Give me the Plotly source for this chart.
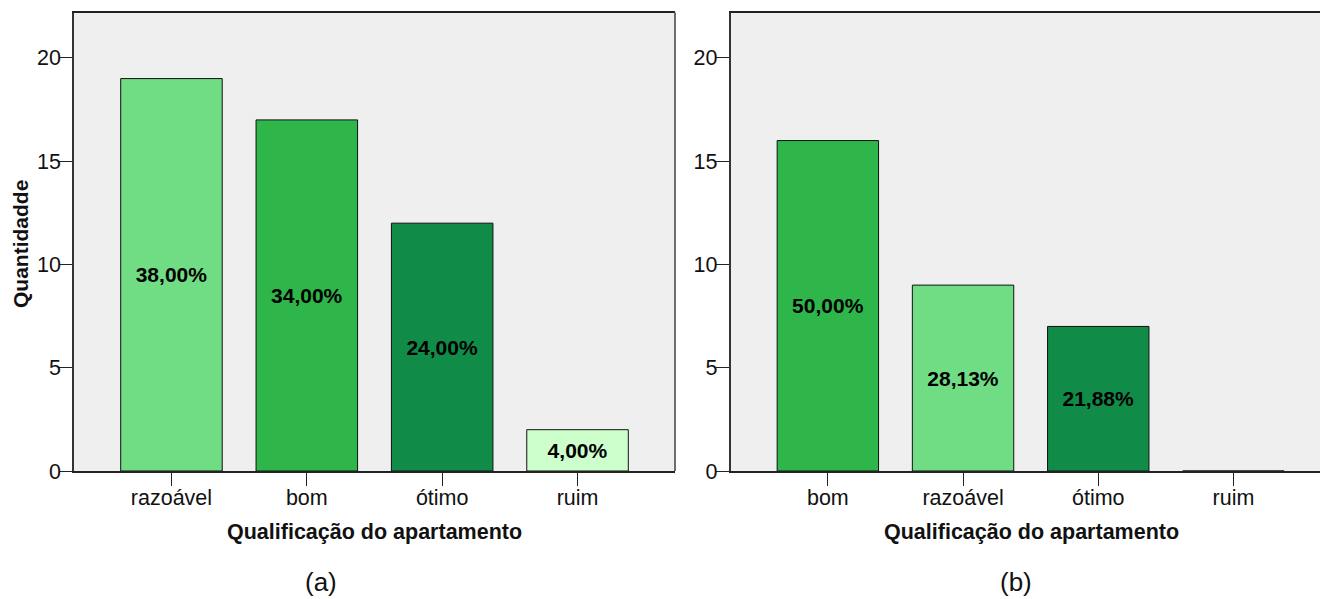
from decimal import Decimal, ROUND_HALF_UP
import plotly.graph_objects as go
from plotly.subplots import make_subplots

# Panel (a)
cats_a = ["razoável", "bom", "ótimo", "ruim"]
counts_a = [19, 17, 12, 2]

# Panel (b)
cats_b = ["bom", "razoável", "ótimo", "ruim"]
counts_b = [16, 9, 7, 0]

y_ticks = [0, 5, 10, 15, 20]
panel_labels = ["(a)", "(b)"]
x_title = "Qualificação do apartamento"
y_title = "Quantidadde"

colors = {
    "razoável": "#70DC84",
    "bom": "#2EB64A",
    "ótimo": "#108B48",
    "ruim": "#CCFFCC",
}

FONT = "Liberation Sans, Arial, sans-serif"
W, H = 1320, 599


def pct_labels(counts):
    total = sum(counts)
    out = []
    for c in counts:
        if c == 0:
            out.append("")
            continue
        p = (Decimal(c) * 100 / Decimal(total)).quantize(Decimal("0.01"), rounding=ROUND_HALF_UP)
        out.append(f"<b>{str(p).replace('.', ',')}%</b>")
    return out


fig = make_subplots(rows=1, cols=2)

for col, (cats, counts) in enumerate([(cats_a, counts_a), (cats_b, counts_b)], start=1):
    fig.add_trace(
        go.Bar(
            x=cats,
            y=counts,
            width=0.75,
            marker=dict(color=[colors[c] for c in cats], line=dict(color="#111111", width=1)),
            text=pct_labels(counts),
            textposition="inside",
            insidetextanchor="middle",
            textangle=0,
            insidetextfont=dict(family=FONT, size=21, color="#000000"),
            constraintext="none",
            cliponaxis=False,
            hoverinfo="skip",
            showlegend=False,
        ),
        row=1,
        col=col,
    )

# plot-area geometry in pixels
y_bot, y_top = 471, 12.5
dom_y = [(H - y_bot) / H, (H - y_top) / H]
dom_a = [74 / W, 675 / W]
dom_b = [730.5 / W, 1.0]

axis_common = dict(
    showgrid=False,
    zeroline=False,
    automargin=False,
    ticks="outside",
    ticklen=13,
    tickwidth=1,
    tickcolor="#222222",
    tickfont=dict(family=FONT, size=21.5, color="#111111"),
)

fig.update_xaxes(axis_common, ticklabelstandoff=-7)
fig.update_yaxes(axis_common, ticklabelstandoff=-6)

fig.update_layout(
    xaxis=dict(domain=dom_a, range=[-0.72, 3.72], showline=True, linecolor="#222222",
               linewidth=1.5, mirror=True, categoryorder="array", categoryarray=cats_a),
    xaxis2=dict(domain=dom_b, range=[-0.72, 3.64], showline=True, linecolor="#222222",
                linewidth=1.5, mirror=True, categoryorder="array", categoryarray=cats_b),
    yaxis=dict(domain=dom_y, range=[0, 22.2], tickvals=y_ticks, showline=True,
               linecolor="#333333", linewidth=1.5, mirror=False),
    yaxis2=dict(domain=dom_y, range=[0, 22.2], tickvals=y_ticks, showline=True,
                linecolor="#333333", linewidth=1.5, mirror=False),
    width=W,
    height=H,
    margin=dict(l=0, r=0, t=0, b=0),
    paper_bgcolor="#FFFFFF",
    plot_bgcolor="#EFEFEF",
    bargap=0.25,
)

# right border of panel (a)
fig.add_shape(type="line", xref="x domain", yref="y domain", x0=1, x1=1, y0=0, y1=1,
              line=dict(color="#6E6E6E", width=2))

ann = []
# x-axis titles
for cx in [374.5, 1031]:
    ann.append(dict(x=cx / W, y=(H - 532) / H, xref="paper", yref="paper",
                    text=f"<b>{x_title}</b>", showarrow=False,
                    font=dict(family=FONT, size=21.5, color="#111111"),
                    xanchor="center", yanchor="middle"))
# panel letters
for cx, lab in zip([321, 1016], panel_labels):
    ann.append(dict(x=cx / W, y=(H - 582) / H, xref="paper", yref="paper",
                    text=lab, showarrow=False,
                    font=dict(family=FONT, size=26, color="#111111"),
                    xanchor="center", yanchor="middle"))
# y-axis title
ann.append(dict(x=20 / W, y=(H - 244) / H, xref="paper", yref="paper",
                text=f"<b>{y_title}</b>", showarrow=False, textangle=-90,
                font=dict(family=FONT, size=21, color="#111111"),
                xanchor="center", yanchor="middle"))
fig.update_layout(annotations=ann)

fig.write_html("out.html")
